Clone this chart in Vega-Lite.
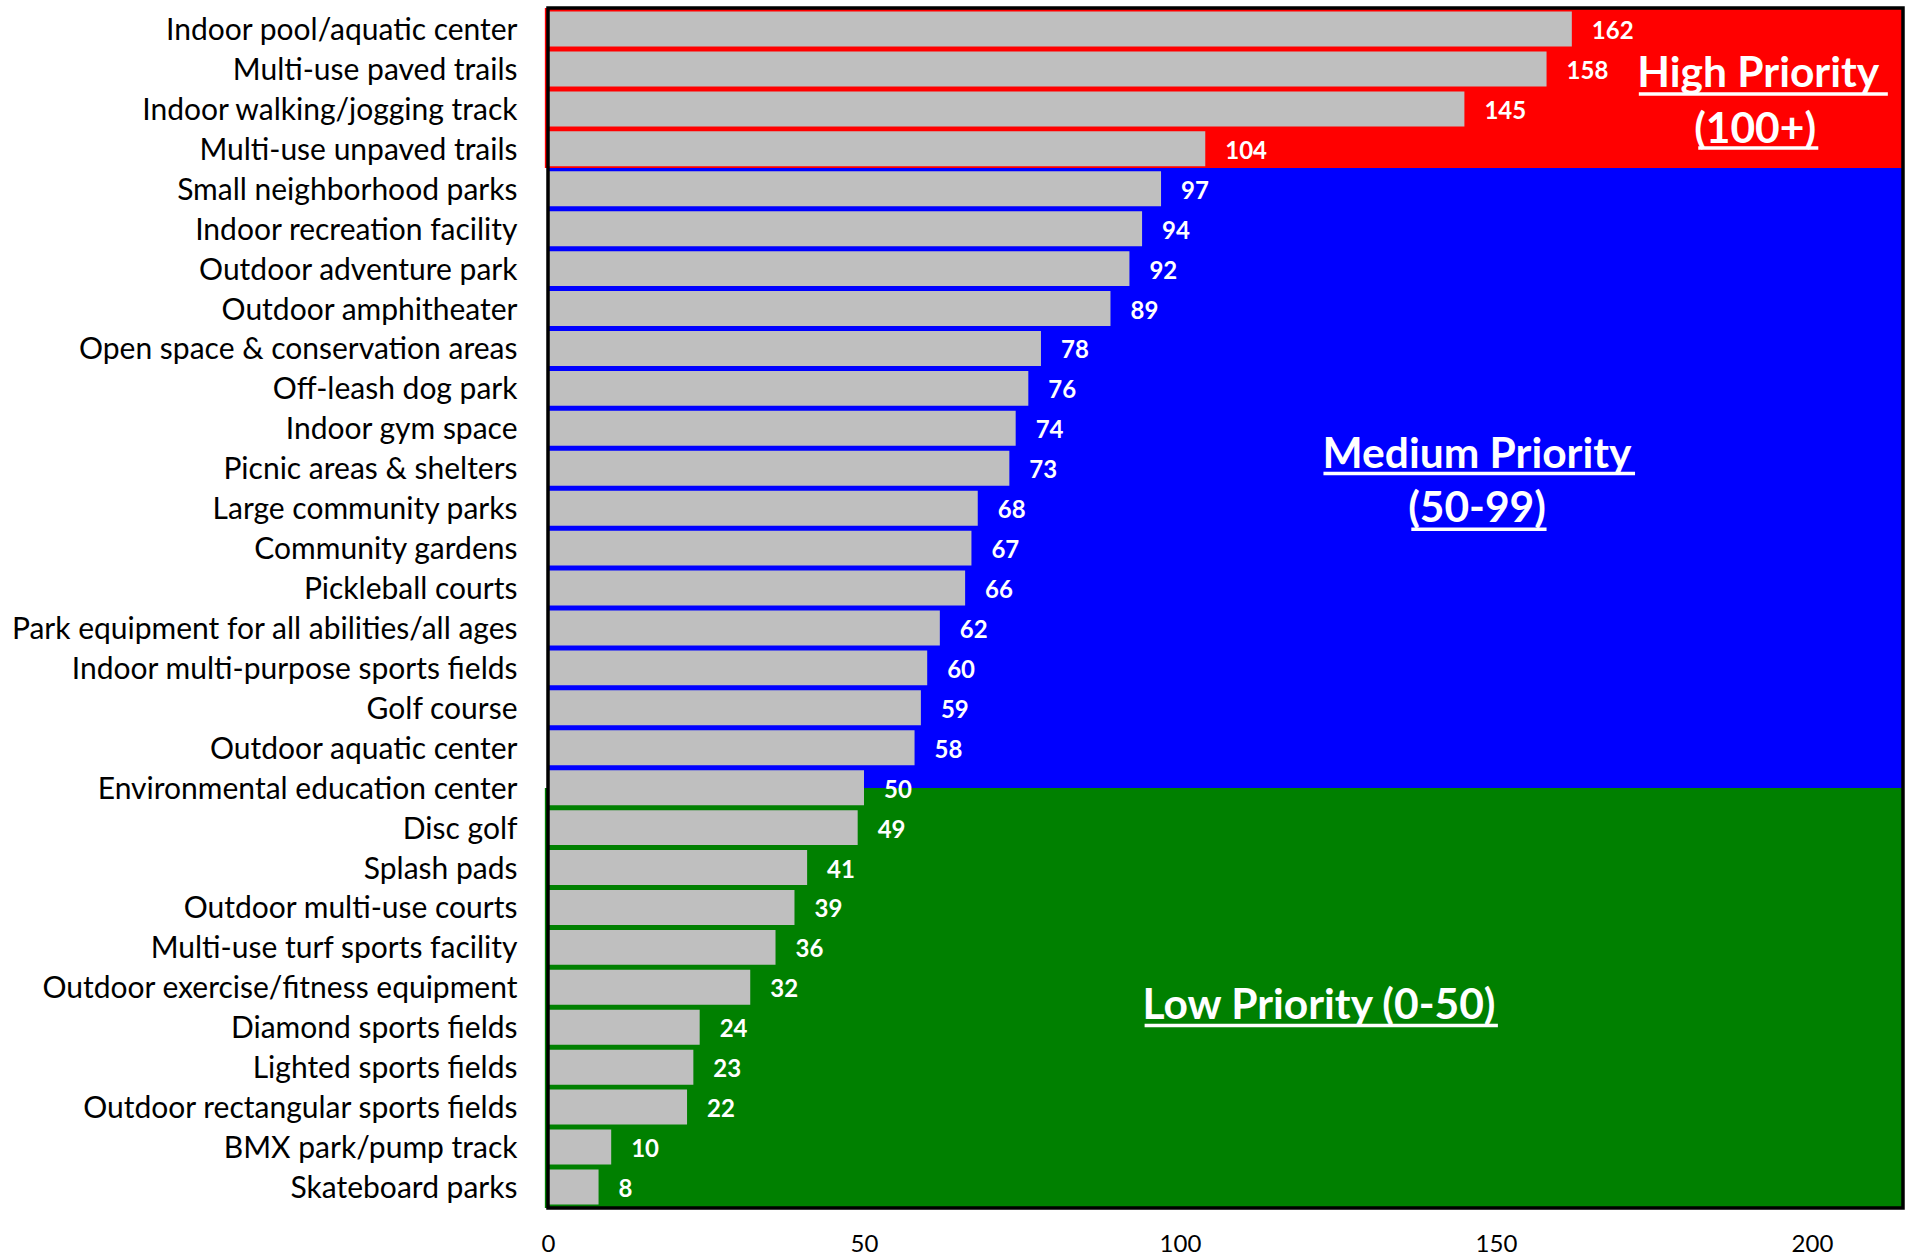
{
  "$schema": "https://vega.github.io/schema/vega-lite/v6.json",
  "autosize": {"type": "none"},
  "padding": {"left": 548, "top": 8, "right": 5, "bottom": 50},
  "width": 1355,
  "height": 1200,
  "background": "white",
  "config": {
    "view": {"stroke": null},
    "font": "Lato",
    "axisX": {"ticks": false, "domain": false, "grid": false, "labelFontSize": 24, "labelFont": "Lato", "labelColor": "black", "labelPadding": 24, "labelFlush": false}
  },
  "resolve": {"scale": {"y": "independent"}},
  "layer": [
    {
      "data": {"values": [
        {"x0": -0.5, "x1": 214.4, "y0": 0, "y1": 4, "fill": "#FF0000"},
        {"x0": 0, "x1": 214.4, "y0": 4, "y1": 19.5, "fill": "#0000FF"},
        {"x0": -0.5, "x1": 214.4, "y0": 19.5, "y1": 30, "fill": "#008000"}
      ]},
      "mark": {"type": "rect"},
      "encoding": {
        "x": {"field": "x0", "type": "quantitative", "scale": {"domain": [0, 214.4], "nice": false}, "axis": {"title": null, "values": [0, 50, 100, 150, 200]}},
        "x2": {"field": "x1"},
        "y": {"field": "y0", "type": "quantitative", "scale": {"domain": [0, 30], "reverse": true, "nice": false}, "axis": null},
        "y2": {"field": "y1"},
        "color": {"field": "fill", "type": "nominal", "scale": null, "legend": null}
      }
    },
    {
      "data": {"values": [
        {"amenity": "Indoor pool/aquatic center", "score": 162},
        {"amenity": "Multi-use paved trails", "score": 158},
        {"amenity": "Indoor walking/jogging track", "score": 145},
        {"amenity": "Multi-use unpaved trails", "score": 104},
        {"amenity": "Small neighborhood parks", "score": 97},
        {"amenity": "Indoor recreation facility", "score": 94},
        {"amenity": "Outdoor adventure park", "score": 92},
        {"amenity": "Outdoor amphitheater", "score": 89},
        {"amenity": "Open space & conservation areas", "score": 78},
        {"amenity": "Off-leash dog park", "score": 76},
        {"amenity": "Indoor gym space", "score": 74},
        {"amenity": "Picnic areas & shelters", "score": 73},
        {"amenity": "Large community parks", "score": 68},
        {"amenity": "Community gardens", "score": 67},
        {"amenity": "Pickleball courts", "score": 66},
        {"amenity": "Park equipment for all abilities/all ages", "score": 62},
        {"amenity": "Indoor multi-purpose sports fields", "score": 60},
        {"amenity": "Golf course", "score": 59},
        {"amenity": "Outdoor aquatic center", "score": 58},
        {"amenity": "Environmental education center", "score": 50},
        {"amenity": "Disc golf", "score": 49},
        {"amenity": "Splash pads", "score": 41},
        {"amenity": "Outdoor multi-use courts", "score": 39},
        {"amenity": "Multi-use turf sports facility", "score": 36},
        {"amenity": "Outdoor exercise/fitness equipment", "score": 32},
        {"amenity": "Diamond sports fields", "score": 24},
        {"amenity": "Lighted sports fields", "score": 23},
        {"amenity": "Outdoor rectangular sports fields", "score": 22},
        {"amenity": "BMX park/pump track", "score": 10},
        {"amenity": "Skateboard parks", "score": 8}
      ]},
      "encoding": {
        "y": {"field": "amenity", "type": "nominal", "sort": null,
              "scale": {"paddingInner": 0.125, "paddingOuter": 0.09},
              "axis": {"title": null, "ticks": false, "domain": false, "labelFontSize": 30, "labelFont": "Lato", "labelColor": "black", "labelPadding": 31, "labelLimit": 0, "labelOffset": 2}},
        "x": {"field": "score", "type": "quantitative", "scale": {"domain": [0, 214.4], "nice": false},
              "axis": {"title": null, "values": [0, 50, 100, 150, 200]}}
      },
      "layer": [
        {"mark": {"type": "bar", "color": "#BFBFBF"}},
        {"mark": {"type": "text", "align": "left", "baseline": "middle", "dx": 20, "dy": 3, "color": "white", "fontWeight": "bold", "fontSize": 24, "font": "Lato"},
         "encoding": {"text": {"field": "score", "type": "quantitative"}}}
      ]
    },
    {
      "data": {"values": [
        {"label": "High Priority", "x": 191.5, "y": 1.98},
        {"label": "(100+)", "x": 191.0, "y": 3.37},
        {"label": "Medium Priority", "x": 147.0, "y": 11.5},
        {"label": "(50-99)", "x": 147.0, "y": 12.85},
        {"label": "Low Priority (0-50)", "x": 122.0, "y": 25.28}
      ]},
      "mark": {"type": "text", "align": "center", "baseline": "alphabetic", "color": "white", "fontWeight": "bold", "fontSize": 42.5, "font": "Lato"},
      "encoding": {
        "x": {"field": "x", "type": "quantitative", "scale": {"domain": [0, 214.4], "nice": false}, "axis": {"title": null, "values": [0, 50, 100, 150, 200]}},
        "y": {"field": "y", "type": "quantitative", "scale": {"domain": [0, 30], "reverse": true, "nice": false}, "axis": null},
        "text": {"field": "label", "type": "nominal"}
      }
    },
    {
      "data": {"values": [
        {"x0": 172.6, "x1": 212.0, "y": 2.15},
        {"x0": 182.0, "x1": 201.0, "y": 3.5},
        {"x0": 122.7, "x1": 172.0, "y": 11.64},
        {"x0": 136.6, "x1": 158.0, "y": 13.03},
        {"x0": 94.4, "x1": 150.3, "y": 25.44}
      ]},
      "mark": {"type": "rule", "color": "white", "strokeWidth": 3.5},
      "encoding": {
        "x": {"field": "x0", "type": "quantitative", "scale": {"domain": [0, 214.4], "nice": false}, "axis": {"title": null, "values": [0, 50, 100, 150, 200]}},
        "x2": {"field": "x1"},
        "y": {"field": "y", "type": "quantitative", "scale": {"domain": [0, 30], "reverse": true, "nice": false}, "axis": null}
      }
    },
    {
      "data": {"values": [{"x0": 0, "x1": 214.4, "y0": 0, "y1": 30}]},
      "mark": {"type": "rect", "fill": null, "fillOpacity": 0, "stroke": "black", "strokeWidth": 3.5},
      "encoding": {
        "x": {"field": "x0", "type": "quantitative", "scale": {"domain": [0, 214.4], "nice": false}, "axis": {"title": null, "values": [0, 50, 100, 150, 200]}},
        "x2": {"field": "x1"},
        "y": {"field": "y0", "type": "quantitative", "scale": {"domain": [0, 30], "reverse": true, "nice": false}, "axis": null},
        "y2": {"field": "y1"}
      }
    }
  ]
}
